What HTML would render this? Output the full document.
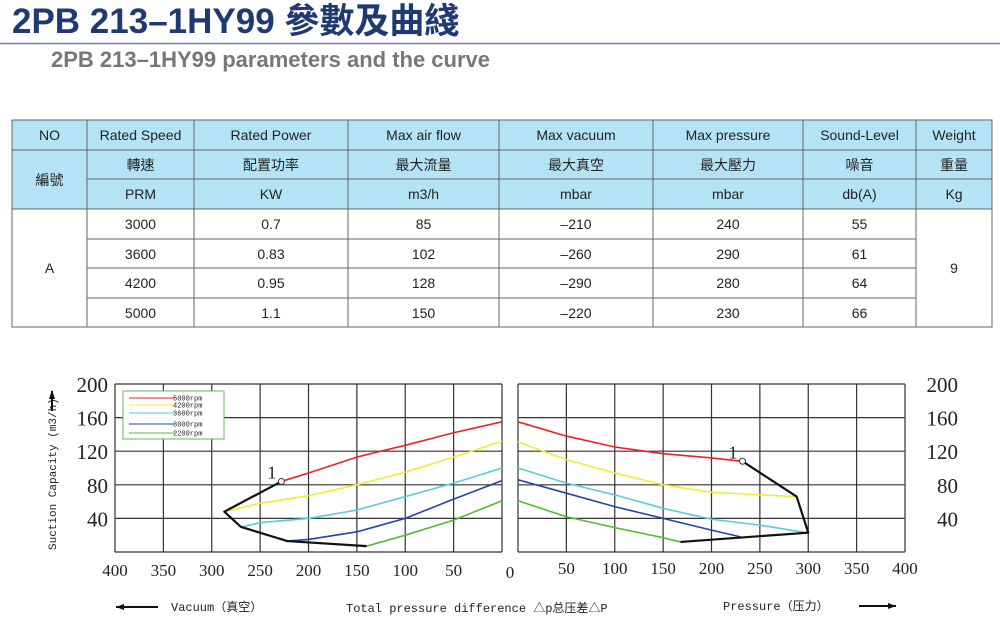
<!DOCTYPE html>
<html><head><meta charset="utf-8"><style>
body{margin:0;background:#fff;width:1000px;height:624px;overflow:hidden;font-family:"Liberation Sans","Noto Sans CJK TC",sans-serif}
svg text{font-family:"Liberation Sans","Noto Sans CJK TC",sans-serif}
svg text.serif{font-family:"Liberation Serif","Noto Serif CJK SC",serif}
svg text.mono{font-family:"Liberation Mono","Noto Sans CJK SC",monospace}
</style></head><body>
<svg id="s" width="1000" height="624" viewBox="0 0 1000 624">
<text x="12" y="33" font-size="35" font-weight="bold" fill="#1f3a73">2PB 213–1HY99 參數及曲綫</text>
<line x1="0" y1="43.5" x2="1000" y2="43.5" stroke="#6a86b0" stroke-width="1.5"/>
<text x="51" y="67" font-size="22" font-weight="bold" fill="#777">2PB 213–1HY99 parameters and the curve</text>
<g id="tbl"></g>
<g id="chart"></g>
</svg>
<script>
const NS="http://www.w3.org/2000/svg";
function mk(tag,attrs,parent,txt){const e=document.createElementNS(NS,tag);for(const k in attrs)e.setAttribute(k,attrs[k]);if(txt!==undefined)e.textContent=txt;parent.appendChild(e);return e;}
// ---- table ----
const tbl=document.getElementById('tbl');
const colX=[12,87,194,348,499,653,803,916,992];
const rowY=[120,150,179,209,239,268,298,327];
const hdr1=["NO","Rated Speed","Rated Power","Max air flow","Max vacuum","Max pressure","Sound-Level","Weight"];
const hdr2=["","轉速","配置功率","最大流量","最大真空","最大壓力","噪音","重量"];
const hdr3=["","PRM","KW","m3/h","mbar","mbar","db(A)","Kg"];
const speeds=["3000","3600","4200","5000"];
const powers=["0.7","0.83","0.95","1.1"];
const flows=["85","102","128","150"];
const vacs=["–210","–260","–290","–220"];
const press=["240","290","280","230"];
const sounds=["55","61","64","66"];
mk('rect',{x:12,y:120,width:980,height:89,fill:'#b5e3f6'},tbl);
mk('rect',{x:12,y:120,width:980,height:207,fill:'none',stroke:'#666','stroke-width':1},tbl);
function hl(y,x1,x2){mk('line',{x1:x1,y1:y,x2:x2,y2:y,stroke:'#666','stroke-width':1},tbl);}
function vl(x,y1,y2){mk('line',{x1:x,y1:y1,x2:x,y2:y2,stroke:'#666','stroke-width':1},tbl);}
hl(150,12,992);hl(179,87,992);hl(209,12,992);
for(let i=4;i<7;i++)hl(rowY[i],87,916);
for(let i=1;i<8;i++)vl(colX[i],120,327);
function ct(x,y,t,name){const e=mk('text',{x:x,y:y,'font-size':14,'text-anchor':'middle',fill:'#222'},tbl,t);}
for(let c=0;c<8;c++){
 const cx=(colX[c]+colX[c+1])/2;
 ct(cx,140,hdr1[c],'header-'+c);
 if(c>0){ct(cx,170,hdr2[c],'header-zh-'+c);ct(cx,199,hdr3[c],'header-unit-'+c);}
}
ct(49.5,185,"編號",'header-zh-no');
ct(49.5,273,"A",'model-a');
ct(954,273,"9",'weight-value');
const cols=[speeds,powers,flows,vacs,press,sounds];
for(let i=0;i<4;i++)for(let c=0;c<6;c++){ct((colX[c+1]+colX[c+2])/2,rowY[i+3]+20,cols[c][i],'cell-'+i+'-'+c);}
// ---- chart ----
const ch=document.getElementById('chart');
const yTicks=[40,80,120,160,200];
const xTicksL=[400,350,300,250,200,150,100,50];
const xTicksR=[50,100,150,200,250,300,350,400];
const redL=[[228,84],[200,94],[150,113],[100,127],[50,142],[0,155]];
const yellowL=[[287,48],[250,58],[200,67],[150,80],[100,95],[50,113],[0,132]];
const cyanL=[[268,30],[250,35],[200,40],[150,50],[100,66],[50,82],[0,100]];
const blueL=[[222,13],[200,15],[150,24],[100,40],[50,63],[0,85]];
const greenL=[[140,7],[100,20],[50,38],[0,61]];
const blackL=[[228,84],[287,48],[270,30],[222,13],[140,7]];
const redR=[[0,155],[50,138],[100,125],[150,117],[200,112],[232,108]];
const yellowR=[[0,131],[50,110],[100,94],[150,80],[200,71],[250,68],[288,66]];
const cyanR=[[0,100],[50,82],[100,68],[150,52],[200,39],[250,32],[298,23]];
const blueR=[[0,86],[50,70],[100,54],[150,40],[200,26],[230,18]];
const greenR=[[0,61],[50,42],[100,29],[150,17],[168,12]];
const blackR=[[232,108],[288,66],[300,23],[168,12]];
const legendLabels=["5000rpm","4200rpm","3600rpm","3000rpm","2200rpm"];
const colors=['#ee2222','#eeee33','#55ccdd','#2244aa','#55bb33'];
const yTop=384,yBot=552;
const yS=v=>yBot-v*(yBot-yTop)/200;
const xL=v=>502-v*(502-115)/400;
const xR=v=>518+v*(905-518)/400;
function grid(x0,x1){
 for(let i=0;i<=8;i++){const x=x0+(x1-x0)*i/8;mk('line',{x1:x,y1:yTop,x2:x,y2:yBot,stroke:'#333','stroke-width':1.2},ch);}
 for(let v=0;v<=200;v+=40){mk('line',{x1:x0,y1:yS(v),x2:x1,y2:yS(v),stroke:'#333','stroke-width':1.2},ch);}
}
grid(115,502);grid(518,905);
yTicks.forEach(v=>{
 let t=mk('text',{x:108,y:yS(v)+8,'font-size':21,'text-anchor':'end',class:'serif',fill:'#222'},ch,v);
 
 t=mk('text',{x:958,y:yS(v)+8,'font-size':21,'text-anchor':'end',class:'serif',fill:'#222'},ch,v);
 
});
xTicksL.forEach(v=>{let t=mk('text',{x:xL(v),y:576,'font-size':17,'text-anchor':'middle',class:'serif',fill:'#222'},ch,v);});
xTicksR.forEach(v=>{let t=mk('text',{x:xR(v),y:574,'font-size':17,'text-anchor':'middle',class:'serif',fill:'#222'},ch,v);});
let z=mk('text',{x:510,y:578,'font-size':17,'text-anchor':'middle',class:'serif',fill:'#222'},ch,'0');
function line(data,xf,color,w,name){
 const p=mk('polyline',{points:data.map(d=>xf(d[0])+','+yS(d[1])).join(' '),fill:'none',stroke:color,'stroke-width':w,'stroke-linejoin':'round'},ch);
 
}
[redL,yellowL,cyanL,blueL,greenL].forEach((d,i)=>line(d,xL,colors[i],1.6,'curve-vacuum-'+legendLabels[i]));
[redR,yellowR,cyanR,blueR,greenR].forEach((d,i)=>line(d,xR,colors[i],1.6,'curve-pressure-'+legendLabels[i]));
line(blackL,xL,'#111',2.2,'vacuum-limit-line');
line(blackR,xR,'#111',2.2,'pressure-limit-line');
[[xL(blackL[0][0]),yS(blackL[0][1]),'point-1-vacuum'],[xR(blackR[0][0]),yS(blackR[0][1]),'point-1-pressure']].forEach(p=>{
 let c=mk('circle',{cx:p[0],cy:p[1],r:3,fill:'#fff',stroke:'#333','stroke-width':1},ch);
 let t=mk('text',{x:p[0]-5,y:p[1]-3,'font-size':18,'text-anchor':'end',class:'serif',fill:'#222'},ch,'1');
});
const lg=mk('g',{},ch);


mk('rect',{x:123,y:391,width:101,height:48,fill:'#fff',stroke:'#66bb55','stroke-width':1},lg);
const lgY=[398,405,413,424,433];
legendLabels.forEach((l,i)=>{
 mk('line',{x1:129,y1:lgY[i],x2:175,y2:lgY[i],stroke:colors[i],'stroke-width':1},lg);
 let t=mk('text',{x:173,y:lgY[i]+2.5,'font-size':7,class:'mono',fill:'#222'},lg,l);
});
let yt=mk('text',{x:0,y:0,'font-size':11,class:'mono',fill:'#222',transform:'translate(56,550) rotate(-90)'},ch,'Suction Capacity (m3/h)');

mk('line',{x1:52,y1:391,x2:52,y2:411,stroke:'#111','stroke-width':2},ch);
mk('polygon',{points:'49,399 52,390 55,399',fill:'#111'},ch);
mk('line',{x1:116,y1:607,x2:158,y2:607,stroke:'#111','stroke-width':2},ch);
mk('polygon',{points:'124,604 116,607 124,610',fill:'#111'},ch);
let f1=mk('text',{x:171,y:611,'font-size':12,class:'mono',fill:'#222'},ch,'Vacuum（真空）');
let f2=mk('text',{x:346,y:612,'font-size':12,class:'mono',fill:'#222'},ch,'Total pressure difference △p总压差△P');
let f3=mk('text',{x:723,y:610,'font-size':12,class:'mono',fill:'#222'},ch,'Pressure（压力）');
mk('line',{x1:859,y1:606,x2:896,y2:606,stroke:'#111','stroke-width':2},ch);
mk('polygon',{points:'888,603 896,606 888,609',fill:'#111'},ch);
</script>
</body></html>
